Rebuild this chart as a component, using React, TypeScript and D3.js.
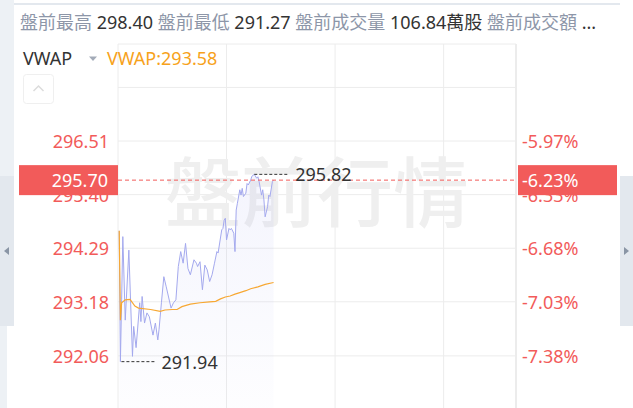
import React from 'react';
import * as d3 from 'd3';

const W = 633;
const H = 408;

// ---- data ----
const headerLabels = ['盤前最高', '盤前最低', '盤前成交量', '盤前成交額'];
const headerValues = ['298.40', '291.27', '106.84萬股', '...'];

const indicatorName = 'VWAP';
const vwapLabel = 'VWAP:293.58';

const currentPrice = 295.70;
const currentPct = '-6.23%';
const highMark = { minute: 113, value: 295.82 };
const lowMark = { minute: 2, value: 291.94 };

const yTickValues = [297.62, 296.51, 295.40, 294.29, 293.18, 292.06];
const leftTickLabels = ['', '296.51', '295.40', '294.29', '293.18', '292.06'];
const rightTickLabels = ['', '-5.97%', '-6.33%', '-6.68%', '-7.03%', '-7.38%'];
const xGridMinutes = [0, 90, 180, 270];

// minutes after 04:00
const priceMinutes = [1, 2, 3, 4, 6, 9, 12, 13, 15, 18, 19, 20, 22, 24, 26, 29, 31, 33, 34, 36, 38, 40, 44, 46, 48, 50, 52, 54, 56, 58, 60, 63, 65, 66, 68, 70, 72, 74, 76, 78, 80, 82, 83, 86, 87, 88, 89, 90, 92, 93, 94, 96, 97, 98, 99, 101, 102, 103, 104, 106, 107, 108, 110, 111, 113, 115, 116, 117, 119, 120, 121, 122, 124, 125, 126, 128, 129];
const priceValues = [294.65, 291.94, 293.22, 294.53, 292.80, 294.25, 292.05, 292.67, 292.23, 293.16, 292.77, 293.29, 292.74, 292.95, 292.87, 292.49, 292.74, 292.39, 292.60, 293.16, 293.70, 293.49, 293.05, 293.16, 293.22, 293.91, 294.22, 293.98, 294.39, 293.87, 293.74, 294.05, 293.98, 293.91, 294.01, 293.43, 293.94, 293.84, 293.60, 293.74, 293.98, 294.22, 294.19, 294.67, 294.70, 294.87, 294.91, 294.46, 294.70, 294.67, 294.70, 294.60, 294.22, 295.08, 295.22, 295.50, 295.39, 295.53, 295.36, 295.43, 295.63, 295.60, 295.70, 295.78, 295.82, 295.74, 295.77, 295.67, 295.39, 295.50, 295.29, 294.94, 295.15, 295.39, 295.36, 295.67, 295.70];

const vwapMinutes = [1, 2, 3, 6, 10, 14, 17, 27, 35, 39, 45, 49, 53, 60, 68, 76, 81, 85, 89, 93, 97, 101, 106, 110, 116, 122, 129];
const vwapValues = [294.65, 292.80, 293.16, 293.22, 293.23, 293.09, 293.05, 293.02, 292.98, 293.01, 293.02, 293.02, 293.08, 293.13, 293.16, 293.18, 293.19, 293.24, 293.28, 293.30, 293.34, 293.37, 293.41, 293.45, 293.49, 293.54, 293.58];

const watermark = '盤前行情';
const watermark2 = 'HK-20250707-LP0-2025-07-07 18:00';

// ---- layout ----
const plot = { left: 118, right: 516, top: 44, bottom: 408 };
const FONT = "'Noto Sans', 'Noto Sans CJK TC', sans-serif";
const CJK = "'Noto Sans CJK TC', sans-serif";
const RED = '#f25b5a';
const GRID = '#ececec';

export default function App() {
  const x = d3.scaleLinear().domain([0, 330]).range([plot.left, plot.right]);
  const y = d3.scaleLinear().domain([290.98, 298.52]).range([plot.bottom, plot.top]);

  const pricePts = priceMinutes.map((m, i) => [m, priceValues[i]] as [number, number]);
  const vwapPts = vwapMinutes.map((m, i) => [m, vwapValues[i]] as [number, number]);

  const line = d3.line<[number, number]>().x(d => x(d[0])).y(d => y(d[1]));
  const area = d3.area<[number, number]>().x(d => x(d[0])).y0(plot.bottom).y1(d => y(d[1]));

  const cy = y(currentPrice);
  const hx = x(highMark.minute), hy = y(highMark.value);
  const lx = x(lowMark.minute), ly = y(lowMark.value);

  return (
    <svg width={W} height={H} style={{ position: 'fixed', left: 0, top: 0, background: '#fff' }} fontFamily={FONT}>
      <defs>
        <linearGradient id="pg" x1="0" y1="0" x2="0" y2="1">
          <stop offset="0%" stopColor="#a4a9ee" stopOpacity={0.12} />
          <stop offset="100%" stopColor="#a4a9ee" stopOpacity={0.02} />
        </linearGradient>
      </defs>
      {/* frame strips */}
      <rect x={0} y={0} width={14} height={176} fill="#edf1f5" />
      <rect x={0} y={326} width={7} height={82} fill="#edf1f5" />
      <rect x={14} y={3} width={606} height={2} fill="#e3e8ee" />
      <rect x={0} y={176} width={14} height={150} fill="#e3e8ee" />
      <rect x={620} y={176} width={13} height={150} fill="#e3e8ee" />
      <path d="M4,251 L9,247 L9,255 Z" fill="#8a95a5" />
      <path d="M629,251 L624,247 L624,255 Z" fill="#8a95a5" />

      {/* header */}
      <text x={20} y={22} fontSize={18} dominantBaseline="central" style={{ whiteSpace: 'pre' }}>
        {headerLabels.map((l, i) => (
          <React.Fragment key={i}>
            <tspan fill="#8d96a8">{(i > 0 ? ' ' : '') + l}</tspan>
            <tspan fill="#333">{' ' + headerValues[i]}</tspan>
          </React.Fragment>
        ))}
      </text>

      {/* grid */}
      {yTickValues.map((v, i) => (
        <line key={'h' + i} x1={plot.left} x2={plot.right} y1={y(v)} y2={y(v)} stroke={GRID} strokeWidth={1} />
      ))}
      <line x1={plot.left} x2={plot.right} y1={plot.top} y2={plot.top} stroke={GRID} />
      {xGridMinutes.map((m, i) => (
        <line key={'v' + i} x1={x(m)} x2={x(m)} y1={plot.top} y2={plot.bottom} stroke={GRID} strokeWidth={1} />
      ))}
      <line x1={plot.right} x2={plot.right} y1={plot.top} y2={plot.bottom} stroke={GRID} strokeWidth={2} />

      {/* watermark */}
      <text x={317} y={188} fontSize={76} fill="#efefef" textAnchor="middle" dominantBaseline="central" fontFamily={CJK} fontWeight={500}>{watermark}</text>
      <text x={0} y={0} fontSize={22} fill="#000" fillOpacity={0.02} transform="translate(255,347) rotate(-22.5)">{watermark2}</text>

      {/* indicator header */}
      <text x={23} y={58} fontSize={18} fill="#333" dominantBaseline="central">{indicatorName}</text>
      <path d="M89,56.5 L97,56.5 L93,61 Z" fill="#a3abb8" />
      <text x={107} y={58} fontSize={18} fill="#f7a21b" dominantBaseline="central">{vwapLabel}</text>
      <rect x={23.5} y={74.5} width={30} height={29} rx={3} fill="#fff" stroke="#efefef" />
      <path d="M33.5,91 L38.5,86 L43.5,91" fill="none" stroke="#dcdcdc" strokeWidth={1.5} />

      {/* series */}
      <path d={area(pricePts) || ''} fill="url(#pg)" />
      <path d={line(pricePts) || ''} fill="none" stroke="#a4a9ee" strokeWidth={1} />
      <path d={line(vwapPts) || ''} fill="none" stroke="#f7a833" strokeWidth={1.2} />

      {/* axis labels */}
      {yTickValues.map((v, i) => (
        <React.Fragment key={'l' + i}>
          <text x={109} y={y(v)} fontSize={18} fill={RED} textAnchor="end" dominantBaseline="central">{leftTickLabels[i]}</text>
          <text x={522} y={y(v)} fontSize={18} fill={RED} dominantBaseline="central">{rightTickLabels[i]}</text>
        </React.Fragment>
      ))}

      {/* current price line & boxes */}
      <line x1={plot.left} x2={plot.right} y1={cy} y2={cy} stroke={RED} strokeDasharray="4,3" strokeWidth={1} />
      <rect x={19} y={cy - 15} width={99} height={30} fill={RED} />
      <text x={108} y={cy} fontSize={18} fill="#fff" textAnchor="end" dominantBaseline="central">{currentPrice.toFixed(2)}</text>
      <rect x={518} y={cy - 15} width={99} height={30} fill={RED} />
      <text x={522} y={cy} fontSize={18} fill="#fff" dominantBaseline="central">{currentPct}</text>

      {/* high / low markers */}
      <line x1={hx} x2={hx + 34} y1={hy} y2={hy} stroke="#333" strokeDasharray="3,2" />
      <text x={hx + 41} y={hy} fontSize={18} fill="#333" dominantBaseline="central">{highMark.value.toFixed(2)}</text>
      <line x1={lx + 1} x2={lx + 35} y1={ly} y2={ly} stroke="#333" strokeDasharray="3,2" />
      <text x={lx + 41} y={ly} fontSize={18} fill="#333" dominantBaseline="central">{lowMark.value.toFixed(2)}</text>
    </svg>
  );
}
